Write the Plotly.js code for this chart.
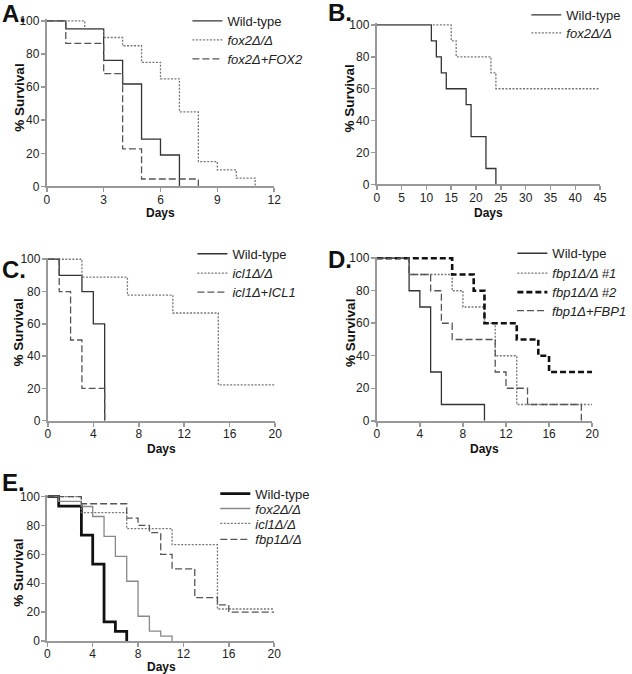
<!DOCTYPE html>
<html><head><meta charset="utf-8">
<script src="https://cdn.plot.ly/plotly-3.0.1.min.js"></script>
<style>html,body{margin:0;padding:0;background:#fff}</style>
</head><body><div id="chart" style="width:632px;height:674px"></div>
<script>
// ---- Panel A ----
const aWildDays = [0, 1, 3, 4, 5, 6, 7];
const aWildSurv = [100, 95.2, 76.2, 61.9, 28.6, 19.0, 0];
const aFox2Days = [0, 2, 3, 4, 5, 6, 7, 8, 9, 10, 11];
const aFox2Surv = [100, 95, 90, 85, 75, 65, 45, 15, 10, 5, 0];
const aFox2RevDays = [0, 1, 3, 4, 5, 8];
const aFox2RevSurv = [100, 86.4, 68.2, 22.7, 4.5, 0];
const aTicks = [0, 3, 6, 9, 12];
// ---- Panel B ----
const bWildDays = [0, 11, 12, 13, 14, 18, 19, 22, 24];
const bWildSurv = [100, 90, 80, 70, 60, 50, 30, 10, 0];
const bFox2Days = [0, 15, 16, 23, 24, 45];
const bFox2Surv = [100, 90, 80, 70, 60, 60];
const bTicks = [0, 5, 10, 15, 20, 25, 30, 35, 40, 45];
// ---- Panel C ----
const cWildDays = [0, 1, 3, 4, 5];
const cWildSurv = [100, 90, 80, 60, 0];
const cIcl1Days = [0, 3, 7, 11, 15, 20];
const cIcl1Surv = [100, 88.9, 77.8, 66.7, 22.2, 22.2];
const cIcl1RevDays = [0, 1, 2, 3, 5];
const cIcl1RevSurv = [100, 80, 50, 20, 0];
// ---- Panel D ----
const dWildDays = [0, 3, 4, 5, 6, 10];
const dWildSurv = [100, 80, 70, 30, 10, 0];
const dFbp1aDays = [0, 3, 7, 8, 10, 11, 13, 20];
const dFbp1aSurv = [100, 90, 80, 70, 60, 40, 10, 10];
const dFbp1bDays = [0, 7, 9, 10, 13, 15, 16, 20];
const dFbp1bSurv = [100, 90, 80, 60, 50, 40, 30, 30];
const dFbp1RevDays = [0, 3, 5, 6, 7, 11, 12, 14, 19];
const dFbp1RevSurv = [100, 90, 80, 60, 50, 30, 20, 10, 0];
// ---- Panel E ----
const eWildDays = [0, 1, 3, 4, 5, 6, 7];
const eWildSurv = [100, 93.3, 73.3, 53.3, 13.3, 6.7, 0];
const eFox2Days = [0, 1, 3, 4, 5, 6, 7, 8, 9, 10, 11];
const eFox2Surv = [100, 96.6, 93.1, 86.2, 72.4, 58.6, 41.4, 17.2, 6.9, 3.4, 0];
const eIcl1Days = [0, 3, 7, 11, 15, 20];
const eIcl1Surv = [100, 88.9, 77.8, 66.7, 22.2, 22.2];
const eFbp1Days = [0, 3, 7, 8, 9, 10, 11, 13, 15, 16, 20];
const eFbp1Surv = [100, 95, 85, 80, 75, 60, 50, 30, 25, 20, 20];
const cdeTicks = [0, 4, 8, 12, 16, 20];
const yTicks = [0, 20, 40, 60, 80, 100];

const W = 632, H = 674;
const FONT = 'Liberation Sans, Arial, Helvetica, sans-serif';
const fx = p => p / W;
const fy = p => 1 - p / H;

const STY = {
  solid: {color: '#333', width: 1.3, dash: 'solid'},
  dot: {color: '#777', width: 1.3, dash: '2px,1.5px'},
  dash: {color: '#555', width: 1.3, dash: '7px,3px'},
  thickDash: {color: '#111', width: 2.6, dash: '6px,3px'},
  thickSolid: {color: '#111', width: 2.8, dash: 'solid'},
  graySolid: {color: '#888', width: 1.3, dash: 'solid'}
};

const layout = {
  width: W, height: H, margin: {l: 0, r: 0, t: 0, b: 0},
  paper_bgcolor: '#fff', plot_bgcolor: 'rgba(0,0,0,0)',
  font: {family: FONT, color: '#222', size: 12},
  showlegend: true,
  annotations: []
};

// each legend entry placed individually: [text left px, text center px]
let legCount = 0;
function legFor(textLeft, center) {
  legCount += 1;
  const key = legCount === 1 ? 'legend' : 'legend' + legCount;
  layout[key] = {x: fx(textLeft - 40), y: fy(center - 15), xanchor: 'left', yanchor: 'top',
    bgcolor: 'rgba(0,0,0,0)', borderwidth: 0, visible: true,
    font: {family: FONT, size: 13, color: '#222'}};
  return key;
}

function tr(x, y, name, style, ax, textLeft, center) {
  return {x: x, y: y, name: name, type: 'scatter', mode: 'lines', showlegend: true,
    line: Object.assign({shape: 'hv'}, style), xaxis: 'x' + ax, yaxis: 'y' + ax,
    legend: legFor(textLeft, center), hoverinfo: 'skip'};
}

const data = [
  tr(aWildDays, aWildSurv, 'Wild-type', STY.solid, '', 228, 19),
  tr(aFox2Days, aFox2Surv, '<i>fox2Δ/Δ</i>', STY.dot, '', 228, 38),
  tr(aFox2RevDays, aFox2RevSurv, '<i>fox2Δ+FOX2</i>', STY.dash, '', 228, 57),
  tr(bWildDays, bWildSurv, 'Wild-type', STY.solid, '2', 568, 12.5),
  tr(bFox2Days, bFox2Surv, '<i>fox2Δ/Δ</i>', STY.dot, '2', 568, 31),
  tr(cWildDays, cWildSurv, 'Wild-type', STY.solid, '3', 233, 252.5),
  tr(cIcl1Days, cIcl1Surv, '<i>icl1Δ/Δ</i>', STY.dot, '3', 233, 272),
  tr(cIcl1RevDays, cIcl1RevSurv, '<i>icl1Δ+ICL1</i>', STY.dash, '3', 233, 291),
  tr(dWildDays, dWildSurv, 'Wild-type', STY.solid, '4', 554, 252),
  tr(dFbp1aDays, dFbp1aSurv, '<i>fbp1Δ/Δ #1</i>', STY.dot, '4', 554, 272),
  tr(dFbp1bDays, dFbp1bSurv, '<i>fbp1Δ/Δ #2</i>', STY.thickDash, '4', 554, 291),
  tr(dFbp1RevDays, dFbp1RevSurv, '<i>fbp1Δ+FBP1</i>', STY.dash, '4', 554, 309.5),
  tr(eWildDays, eWildSurv, 'Wild-type', STY.thickSolid, '5', 256, 493),
  tr(eFox2Days, eFox2Surv, '<i>fox2Δ/Δ</i>', STY.graySolid, '5', 256, 508),
  tr(eIcl1Days, eIcl1Surv, '<i>icl1Δ/Δ</i>', STY.dot, '5', 256, 523),
  tr(eFbp1Days, eFbp1Surv, '<i>fbp1Δ/Δ</i>', STY.dash, '5', 256, 539)
];

// panel geometry in px: x0, x1 (axis ends), yZero, yHundred
const geo = {
  '': {x0: 47, x1: 275, y0: 185, y100: 19, xmax: 12, ticks: aTicks},
  '2': {x0: 378, x1: 602, y0: 183, y100: 23, xmax: 45, ticks: bTicks},
  '3': {x0: 48, x1: 276, y0: 420, y100: 258, xmax: 20, ticks: cdeTicks},
  '4': {x0: 378, x1: 594, y0: 420, y100: 257, xmax: 20, ticks: cdeTicks},
  '5': {x0: 47.5, x1: 275, y0: 641, y100: 496, xmax: 20, ticks: cdeTicks}
};
const YTOP = 101;

const axCommon = {
  showgrid: false, zeroline: false, showline: true, linecolor: '#999', linewidth: 2,
  ticks: 'outside', ticklen: 4, tickwidth: 1.5, tickcolor: '#999',
  tickfont: {family: FONT, size: 12, color: '#222'}, fixedrange: true
};

Object.keys(geo).forEach(k => {
  const g = geo[k];
  const topPx = g.y100 - (g.y0 - g.y100) * (YTOP - 100) / 100;
  layout['xaxis' + k] = Object.assign({}, axCommon, {
    domain: [fx(g.x0), fx(g.x1)], range: [0, g.xmax], tickvals: g.ticks,
    anchor: 'y' + k, ticklabelstandoff: -3
  });
  layout['yaxis' + k] = Object.assign({}, axCommon, {
    domain: [fy(g.y0), fy(topPx)], range: [0, YTOP], tickvals: yTicks,
    anchor: 'x' + k, ticklabelstandoff: -1
  });
});

function ann(text, xpx, ypx, size, opts) {
  layout.annotations.push(Object.assign({
    text: text, xref: 'paper', yref: 'paper', x: fx(xpx), y: fy(ypx),
    xanchor: 'center', yanchor: 'middle', showarrow: false,
    font: {family: FONT, size: size, color: '#111'}
  }, opts || {}));
}
// panel letters
ann('<b>A.</b>', 0, 12, 24, {xanchor: 'left'});
ann('<b>B.</b>', 327, 11, 24, {xanchor: 'left'});
ann('<b>C.</b>', 0, 268, 24, {xanchor: 'left'});
ann('<b>D.</b>', 327, 258, 24, {xanchor: 'left'});
ann('<b>E.</b>', 0, 482, 24, {xanchor: 'left'});
// y titles
ann('<b>% Survival</b>', 20, 96, 13.5, {textangle: -90});
ann('<b>% Survival</b>', 351, 97, 13.5, {textangle: -90});
ann('<b>% Survival</b>', 18.5, 331, 13.5, {textangle: -90});
ann('<b>% Survival</b>', 351, 332, 13.5, {textangle: -90});
ann('<b>% Survival</b>', 18.5, 572, 13.5, {textangle: -90});
// x titles
ann('<b>Days</b>', 161, 212, 12);
ann('<b>Days</b>', 490, 212, 12);
ann('<b>Days</b>', 162, 448, 12);
ann('<b>Days</b>', 486, 448, 12);
ann('<b>Days</b>', 162, 667, 12);

Plotly.newPlot('chart', data, layout, {displayModeBar: false, staticPlot: true});
</script>
</body></html>
